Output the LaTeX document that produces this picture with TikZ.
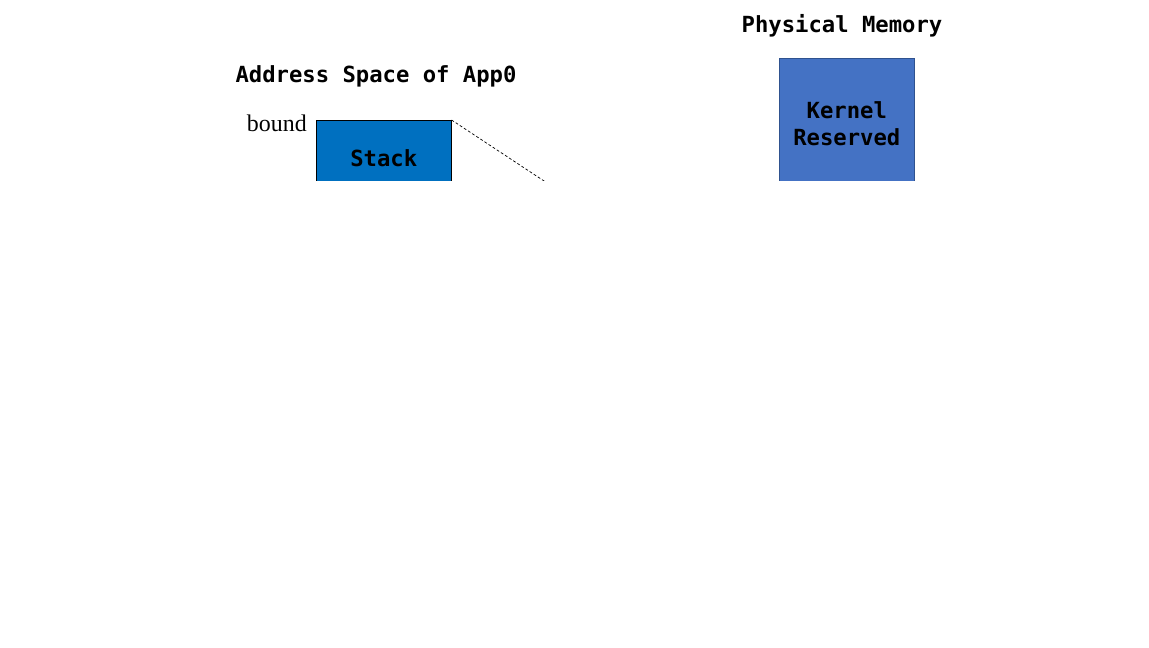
\documentclass[tikz,border=0pt]{standalone}
\usepackage{fontspec}
\newfontfamily\monob{DejaVu Sans Mono}
\newfontfamily\serifb{Liberation Serif}
\definecolor{stackblue}{HTML}{0070C0}
\definecolor{kernblue}{HTML}{4472C4}
\definecolor{kernedge}{HTML}{2F528F}
\tikzset{
  title/.style={font=\monob\bfseries\fontsize{15.8}{19.2}\selectfont},
  memblk/.style={draw, anchor=north west, minimum width=3.375cm, inner sep=0pt,
    font=\monob\bfseries\fontsize{15.8}{19.2}\selectfont, align=center},
  link/.style={dash pattern=on 2pt off 1.5pt, line width=0.5pt}
}
\begin{document}
\begin{tikzpicture}[x=0.025cm,y=-0.025cm]
    \useasboundingbox (0,0) rectangle (1149,647);
    \node[title] (astitle) at (376,76) {Address Space of App0};
    \node[title] (pmtitle) at (842,26) {Physical Memory};
    \begin{scope}
      \clip (0,0) rectangle (1149,180);
      \node[memblk, fill=stackblue, minimum height=1.92cm] (stack) at (316,120) {Stack};
      \node[memblk, draw=kernedge, fill=kernblue, minimum height=3.25cm] (kernel) at (779,58) {Kernel\\Reserved};
      \coordinate (lnk) at (779,336);
      \draw[link] (stack.north east) -- (lnk);
    \end{scope}
    \node[anchor=base east, inner sep=0pt, font=\serifb\fontsize{17}{20}\selectfont] (bnd) at (307,131) {bound};
\end{tikzpicture}
\end{document}
